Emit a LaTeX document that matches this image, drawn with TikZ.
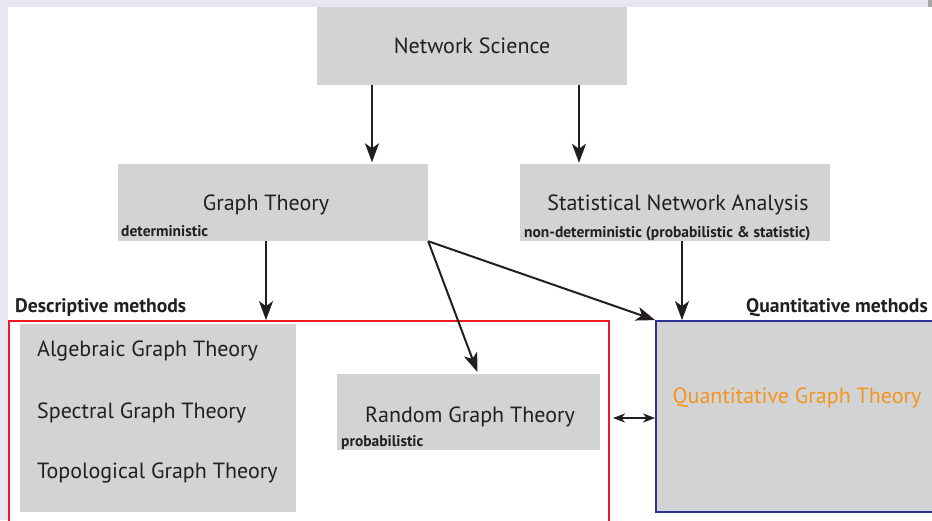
\documentclass[tikz,border=0pt]{standalone}
\usepackage{fontspec}
\setmainfont{PT Sans}
\usetikzlibrary{arrows.meta}
\definecolor{boxgray}{HTML}{D1D3D4}
\definecolor{ink}{HTML}{231F20}
\definecolor{framered}{HTML}{ED1C24}
\definecolor{frameblue}{HTML}{2E3192}
\definecolor{qorange}{HTML}{F7941D}
\definecolor{lavender}{HTML}{E7E7F3}
\tikzset{
  box/.style={fill=boxgray, draw=none, inner sep=0pt, text=ink, font=\fontsize{22}{26}\selectfont},
  maintext/.style={text=ink, inner sep=0pt, font=\fontsize{22}{26}\selectfont},
  smalllab/.style={text=ink, inner sep=0pt, font=\bfseries\fontsize{15.5}{18}\selectfont},
  methodlab/.style={text=ink, inner sep=0pt, font=\bfseries\fontsize{19.6}{23}\selectfont},
  arr/.style={draw=ink, line width=2pt, -{Stealth[length=19pt,width=14pt,inset=5pt]}},
  dblarr/.style={draw=ink, line width=1.8pt, {Stealth[length=12pt,width=9pt,inset=3.5pt]}-{Stealth[length=12pt,width=9pt,inset=3.5pt]}},
}
\begin{document}
\begin{tikzpicture}[x=1pt,y=-1pt]
\useasboundingbox (0,0) rectangle (932,520);
% background
\fill[lavender] (0,0) rectangle (932,520);
\fill[white] (8,7) rectangle (940,530);
\fill[gray!70] (928,0) rectangle (932,7);

% boxes
\node[box, minimum width=310pt, minimum height=78pt] (ns) at (472,46) {Network Science};
\node[box, minimum width=310pt, minimum height=77pt] (gt) at (273,202.5) {};
\node[maintext, anchor=base] (gtt) at (266,210) {Graph Theory};
\node[smalllab, anchor=base west] (gtl) at (121,236) {deterministic};
\node[box, minimum width=310pt, minimum height=77pt] (sna) at (675,202.5) {};
\node[maintext, anchor=base] (snat) at (678,210) {Statistical Network Analysis};
\node[smalllab, anchor=base west] (snal) at (524,237) {non-deterministic (probabilistic \& statistic)};

% descriptive frame
\node[draw=framered, line width=1.8pt, minimum width=600pt, minimum height=215pt, inner sep=0pt] (desc) at (309,428.5) {};
\node[methodlab, anchor=base west] (descl) at (15,312) {Descriptive methods};
\node[box, minimum width=276pt, minimum height=188pt] (dbox) at (158,418) {};
\node[maintext, anchor=base west] (alg) at (37,356) {Algebraic Graph Theory};
\node[maintext, anchor=base west] (spec) at (37,418) {Spectral Graph Theory};
\node[maintext, anchor=base west] (topo) at (37,478) {Topological Graph Theory};
\node[box, minimum width=263pt, minimum height=76pt] (rgt) at (468.5,412) {};
\node[maintext, anchor=base] (rgtt) at (470,422) {Random Graph Theory};
\node[smalllab, anchor=base west] (rgtl) at (341,446) {probabilistic};

% quantitative frame
\node[box, draw=frameblue, line width=1.8pt, minimum width=290pt, minimum height=191pt] (qgt) at (801,416.5) {};
\node[maintext, text=qorange, anchor=base] (qgtt) at (797,403) {Quantitative Graph Theory};
\node[methodlab, anchor=base east] (qgtl) at (928,312) {Quantitative methods};

% connector x positions
\coordinate (c1) at (372,0);
\coordinate (c2) at (579,0);
\coordinate (c3) at (266,0);
\coordinate (c4) at (682,0);
\coordinate (c5) at (478,0);
\coordinate (c6) at (0,418);
\coordinate (c7) at (613,0);

\draw[arr, shorten >=1.5pt] (ns.south -| c1) -- (gt.north -| c1);
\draw[arr, shorten >=1pt] (ns.south -| c2) -- (sna.north -| c2);
\draw[arr] (gt.south -| c3) -- (desc.north -| c3);
\draw[arr] (sna.south -| c4) -- (qgt.north -| c4);
\draw[arr, shorten >=2pt] (gt.south east) -- (rgt.north -| c5);
\draw[arr] (gt.south east) -- (qgt.north west);
\draw[dblarr] (c6 -| c7) -- (c6 -| qgt.west);
\end{tikzpicture}
\end{document}
